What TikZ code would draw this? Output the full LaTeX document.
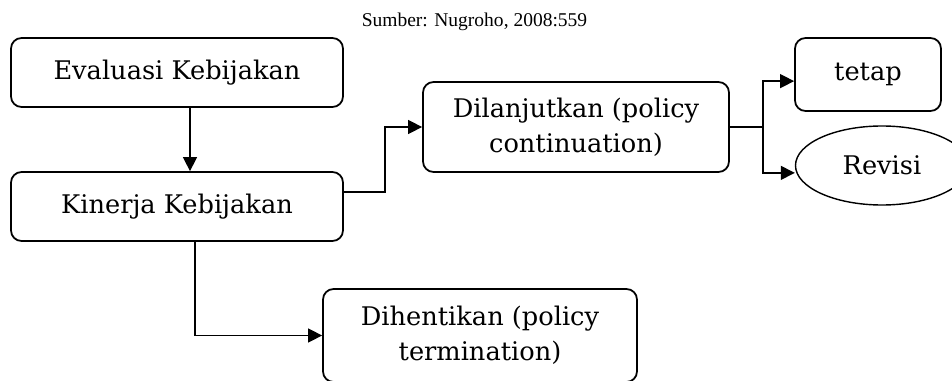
\documentclass[tikz,border=0pt]{standalone}
\usepackage{fontspec}
\setmainfont{DejaVu Serif}
\newfontfamily\sourcefont{Liberation Serif}
\usetikzlibrary{arrows.meta,calc,positioning,shapes.geometric}
\newcommand{\boxfont}{\fontsize{14.6pt}{19.8pt}\selectfont}

\begin{document}
\begin{tikzpicture}[>={Triangle[length=0.28cm,width=0.28cm]}, line width=0.8pt,
  box/.style={draw, line width=1pt, rounded corners=6pt, align=center,
    inner sep=0pt, font=\boxfont},
  oval/.style={draw, line width=0.8pt, ellipse, inner sep=0pt, font=\boxfont}]
  \useasboundingbox (0,0) rectangle (19.04,-7.62);
  \clip (0,0) rectangle (19.04,-7.62);

  % Source line at the top.
  \node[font=\sourcefont\fontsize{11.1pt}{13pt}\selectfont] (source) at (9.49,-0.44)
    {Sumber: Nugroho, 2008:559};

  % The left column.
  \node[box, minimum width=6.64cm, minimum height=1.38cm] (evaluasi) at (3.54,-1.45)
    {Evaluasi Kebijakan};
  \node[box, minimum width=6.64cm, minimum height=1.38cm] (kinerja) at (3.54,-4.13)
    {Kinerja Kebijakan};

  % The two outcomes.
  \node[box, minimum width=6.12cm, minimum height=1.80cm] (lanjut) at (11.52,-2.54)
    {Dilanjutkan (policy\\continuation)};
  \node[box, minimum width=6.28cm, minimum height=1.86cm] (henti) at (9.60,-6.71)
    {Dihentikan (policy\\termination)};

  % What follows a continuation.
  \node[box, minimum width=2.92cm, minimum height=1.46cm] (tetap) at (17.36,-1.49) {tetap};
  \node[oval, minimum width=3.46cm, minimum height=1.58cm] (revisi) at (17.64,-3.31) {Revisi};

  % Connectors.
  \draw[->] ($(evaluasi.south)+(0.26,0)$) -- ($(kinerja.north)+(0.26,0)$);
  \draw[->] ($(kinerja.east)+(0,0.29)$) -- ++(0.82,0) |- (lanjut.west);
  \draw[->] ($(kinerja.south)+(0.36,0)$) |- (henti.west);
  \coordinate (split) at ($(lanjut.east)+(0.66,0)$);
  \draw (lanjut.east) -- (split);
  \draw[->] (split) |- (tetap.west |- lanjut.north);
  \draw[->] (split) |- (revisi.west |- lanjut.south);
\end{tikzpicture}
\end{document}
